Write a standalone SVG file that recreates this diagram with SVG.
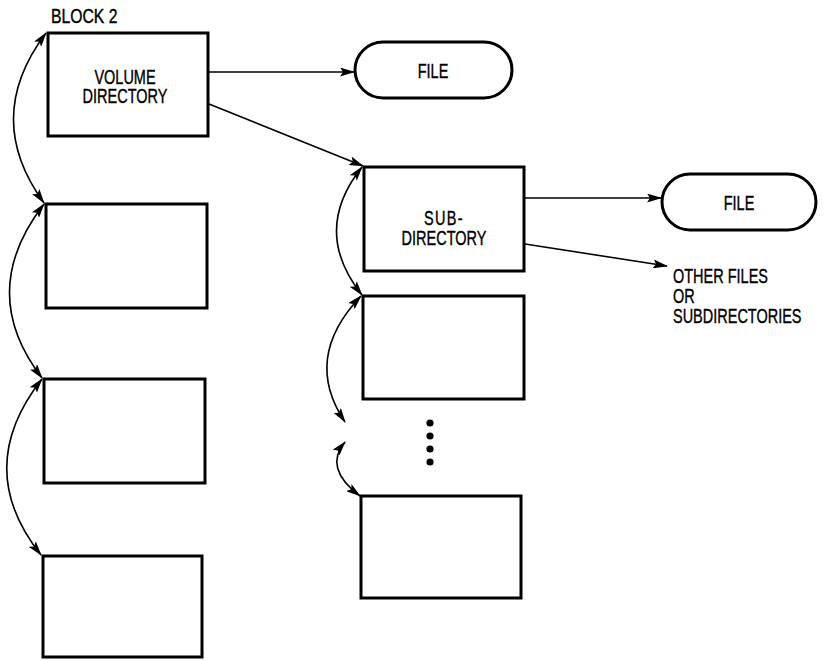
<svg xmlns="http://www.w3.org/2000/svg" width="824" height="661" viewBox="0 0 824 661">
<style>
.box{fill:#fff;stroke:#000;stroke-width:3}
.pill{fill:#fff;stroke:#000;stroke-width:3}
.t{font-family:"Liberation Sans",Arial,sans-serif;font-size:21px;fill:#000;stroke:#000;stroke-width:0.4}
.c{text-anchor:middle}
.ln{fill:none;stroke:#000;stroke-width:1.6}
.arr{marker-end:url(#ah)}
.dbl{marker-start:url(#ah);marker-end:url(#ah)}
</style>
<defs>
<marker id="ah" markerUnits="userSpaceOnUse" markerWidth="15" markerHeight="9" refX="14" refY="4.5" orient="auto-start-reverse" viewBox="0 0 15 9">
<path d="M0,0 L15,4.5 L0,9 L3,4.5 z" fill="#000"/>
</marker>
</defs>
<rect width="824" height="661" fill="#fff"/>
<text class="t" transform="translate(51,23) scale(0.75,1)">BLOCK 2</text>
<g id="volume-directory">
<rect class="box" x="48" y="33" width="160" height="103"/>
<text class="t c" transform="translate(125,84) scale(0.69,1)"><tspan x="0" y="0">VOLUME</tspan><tspan x="0" dy="19.5">DIRECTORY</tspan></text>
</g>
<g id="block-l2"><rect class="box" x="46" y="204" width="161" height="104"/></g>
<g id="block-l3"><rect class="box" x="44" y="379" width="161" height="104"/></g>
<g id="block-l4"><rect class="box" x="43" y="556" width="159" height="101"/></g>
<g id="file-1">
<rect class="pill" x="355" y="42" width="157" height="56" rx="28"/>
<text class="t c" transform="translate(433,78) scale(0.69,1)">FILE</text>
</g>
<g id="subdirectory">
<rect class="box" x="364" y="167" width="160" height="104"/>
<text class="t c" transform="translate(444,225) scale(0.69,1)"><tspan x="0" y="0" letter-spacing="2">SUB-</tspan><tspan x="0" dy="20">DIRECTORY</tspan></text>
</g>
<g id="block-m2"><rect class="box" x="363" y="296" width="161" height="103"/></g>
<g id="block-m3"><rect class="box" x="361" y="496" width="160" height="102"/></g>
<g id="file-2">
<rect class="pill" x="662" y="174" width="154" height="56" rx="28"/>
<text class="t c" transform="translate(739,210) scale(0.69,1)">FILE</text>
</g>
<g id="other-files">
<text class="t" transform="translate(673,283) scale(0.69,1)"><tspan x="0" y="0">OTHER FILES</tspan><tspan x="0" dy="20">OR</tspan><tspan x="0" dy="20">SUBDIRECTORIES</tspan></text>
</g>
<g id="ellipsis">
<circle cx="430" cy="423" r="3.6"/>
<circle cx="430" cy="436" r="3.6"/>
<circle cx="430" cy="449" r="3.6"/>
<circle cx="430" cy="462" r="3.6"/>
</g>
<g id="connectors">
<path class="ln arr" d="M209,72 L354,72"/>
<path class="ln arr" d="M209,104 L363,166"/>
<path class="ln arr" d="M525,198 L661,198"/>
<path class="ln arr" d="M525,244 L667,266"/>
<path class="ln dbl" d="M46,33 Q-18,118 44,203"/>
<path class="ln dbl" d="M44,204 Q-24,292 42,378"/>
<path class="ln dbl" d="M42,379 Q-28,468 41,555"/>
<path class="ln dbl" d="M362,167 Q311,231 362,295"/>
<path class="ln dbl" d="M361,296 Q302,358 345,422"/>
<path class="ln dbl" d="M345,442 Q323,468 360,496"/>
</g>
</svg>
